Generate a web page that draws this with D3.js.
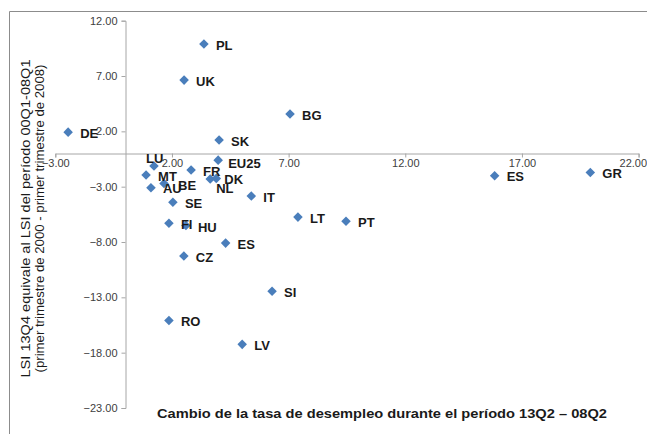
<!DOCTYPE html>
<html>
<head>
<meta charset="utf-8">
<script src="https://cdn.jsdelivr.net/npm/d3@7"></script>
<style>
  html, body { margin: 0; padding: 0; background: #fff; }
  svg { display: block; font-family: "Liberation Sans", Arial, sans-serif; }
  .tick text { fill: #404040; font-size: 11px; }
  .lbl { font-size: 13px; font-weight: bold; fill: #1a1a1a; }
</style>
</head>
<body>
<svg id="chart" width="647" height="434"></svg>
<script>
// country codes, unemployment change (x), LSI (y)
const countries = ["PL", "UK", "BG", "DE", "SK", "EU25", "LU", "FR", "MT", "DK", "NL", "BE", "AU", "IT", "SE",
  "LT", "PT", "FI", "HU", "ES", "CZ", "SI", "RO", "LV", "ES", "GR"];
const unempChange = [3.37, 2.52, 7.06, -2.45, 4.02, 3.98, 1.23, 2.82, 0.89, 3.9, 3.64, 1.66, 1.1, 5.4, 2.04,
  7.4, 9.46, 1.87, 2.6, 4.3, 2.51, 6.29, 1.87, 5.01, 15.83, 19.93];
const lsi = [9.89, 6.63, 3.56, 1.93, 1.21, -0.6, -1.14, -1.5, -1.95, -2.25, -2.3, -2.72, -3.1, -3.85, -4.4,
  -5.75, -6.12, -6.3, -6.5, -8.1, -9.27, -12.45, -15.1, -17.25, -2.01, -1.71];
const xTicks = [-3, 2, 7, 12, 17, 22];
const yTicks = [12, 7, 2, -3, -8, -13, -18, -23];

const xTitle = "Cambio de la tasa de desempleo durante el período 13Q2 – 08Q2";
const yTitle = ["LSI 13Q4 equivale al LSI del período 00Q1-08Q1",
  "(primer trimestre de 2000 - primer trimestre de 2008)"];

// label nudges (dx, dy) for crowded points, by index
const nudge = { 6: [-8, -8], 9: [8, 1], 10: [6, 10], 11: [14, 2], 5: [10, 3], 18: [12, 2] };

const svg = d3.select("#chart");
const x = d3.scaleLinear().domain([-3, 22]).range([55.3, 638.6]);
const y = d3.scaleLinear().domain([-23, 12]).range([408, 20.7]);

// outer frame (top + left edges visible)
svg.append("path")
  .attr("d", "M9.5,434 V11.5 H647")
  .attr("fill", "none").attr("stroke", "#8c8c8c").attr("stroke-width", 1);

const fmt = d3.format(".2f");

const gy = svg.append("g")
  .attr("transform", `translate(${Math.round(x(0)) + 0.5},0)`)
  .call(d3.axisLeft(y).tickValues(yTicks).tickFormat(fmt).tickSize(4).tickPadding(4));
gy.select(".domain").attr("stroke", "#a6a6a6");
gy.selectAll(".tick line").attr("stroke", "#a6a6a6");

const gx = svg.append("g")
  .attr("transform", `translate(0,${Math.round(y(0)) + 0.5})`)
  .call(d3.axisBottom(x).tickValues(xTicks).tickFormat(fmt).tickSize(4).tickPadding(2));
gx.select(".domain").attr("stroke", "#a6a6a6");
gx.selectAll(".tick line").attr("stroke", "#a6a6a6");
// last label sits against the right edge, as in the original
gx.selectAll(".tick text").filter(d => d === 22).attr("text-anchor", "end").attr("dx", 8);

const pts = countries.map((c, i) => ({ c, x: unempChange[i], y: lsi[i], i }));

svg.append("g").selectAll("path")
  .data(pts)
  .join("path")
  .attr("d", d3.symbol(d3.symbolDiamond2, 58))
  .attr("transform", d => `translate(${x(d.x)},${y(d.y)})`)
  .attr("fill", "#4a7ebb");

svg.append("g").selectAll("text")
  .data(pts)
  .join("text")
  .attr("class", "lbl")
  .attr("x", d => x(d.x) + (nudge[d.i] ? nudge[d.i][0] : 12))
  .attr("y", d => y(d.y) + (nudge[d.i] ? nudge[d.i][1] : 1))
  .attr("dominant-baseline", "central")
  .text(d => d.c);

// axis titles
svg.append("text")
  .attr("x", 157).attr("y", 418)
  .attr("font-size", 13).attr("font-weight", "bold").attr("fill", "#1a1a1a")
  .attr("textLength", 450).attr("lengthAdjust", "spacingAndGlyphs")
  .text(xTitle);

const yt = svg.append("text")
  .attr("transform", "translate(0,218.5) rotate(-90)")
  .attr("text-anchor", "middle")
  .attr("font-size", 12.5).attr("fill", "#1a1a1a");
const yLens = [318, 308];
yt.selectAll("tspan").data(yTitle).join("tspan")
  .attr("x", 0).attr("y", (d, i) => 30 + i * 14)
  .attr("textLength", (d, i) => yLens[i]).attr("lengthAdjust", "spacingAndGlyphs")
  .text(d => d);
</script>
</body>
</html>
